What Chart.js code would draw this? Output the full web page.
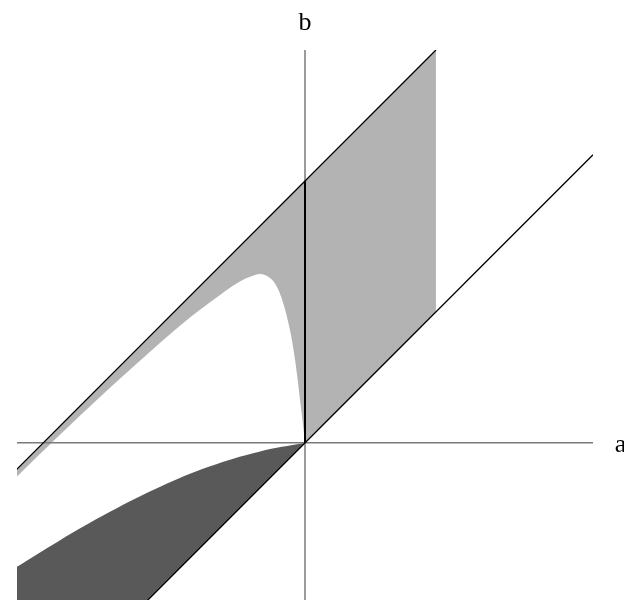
<!DOCTYPE html>
<html>
<head>
<meta charset="utf-8">
<script src="https://cdn.jsdelivr.net/npm/chart.js@4.4.1/dist/chart.umd.min.js"></script>
<style>
  html, body { margin: 0; padding: 0; background: #fff; }
</style>
</head>
<body>
<canvas id="regionChart" width="624" height="604"></canvas>
<script>
// boundary of the white hole (a < 0)
const holeA = [-2.25, -1.9, -1.49, -1.1, -0.955, -0.802, -0.649, -0.497, -0.42, -0.344, -0.267, -0.216, -0.166, -0.115, -0.076, -0.025, 0];
const holeB = [-0.305, 0.035, 0.42, 0.771, 0.894, 1.016, 1.13, 1.232, 1.268, 1.29, 1.258, 1.194, 1.067, 0.863, 0.634, 0.22, 0];

// upper edge of the dark region (a < 0)
const darkA = [-2.25, -1.88, -1.49, -1.11, -0.73, -0.35, 0];
const darkB = [-0.978, -0.749, -0.527, -0.337, -0.181, -0.067, 0];

// straight lines b = a + c and b = a
const upperA = [-2.3, 1];
const upperC = 2;
const diagA = [-2.3, 2.2];
const rightA = [0, 1];

const xRange = [-2.2, 2.2];
const yRange = [-1.2, 3.0];

const pts = (xs, f) => xs.map(x => ({ x: x, y: f(x) }));
const zip = (xs, ys) => xs.map((x, i) => ({ x: x, y: ys[i] }));

const base = {
    pointRadius: 0,
    pointHoverRadius: 0,
    fill: false
};

const axisLabels = {
    id: 'axisLabels',
    afterDraw(chart) {
        const { ctx, scales: { x, y } } = chart;
        ctx.save();
        ctx.fillStyle = '#000';
        ctx.font = '26px "Liberation Serif", "DejaVu Serif", serif';
        ctx.textAlign = 'center';
        ctx.textBaseline = 'alphabetic';
        ctx.fillText('b', x.getPixelForValue(0), y.getPixelForValue(3.155));
        ctx.fillText('a', x.getPixelForValue(2.41), y.getPixelForValue(-0.069));
        ctx.restore();
    }
};

const ctx = document.getElementById('regionChart').getContext('2d');
new Chart(ctx, {
    type: 'line',
    data: {
        datasets: [
            // 0: edge a = 0 inside the light region
            { ...base, data: [{ x: 0, y: 0 }, { x: 0, y: upperC }], borderColor: '#000', borderWidth: 2 },
            // 1: b = a + 2
            { ...base, data: pts(upperA, a => a + upperC), borderColor: '#000', borderWidth: 1.3 },
            // 2: b = a
            { ...base, data: pts(diagA, a => a), borderColor: '#000', borderWidth: 1.3 },
            // 3, 4: axes
            { ...base, data: [{ x: xRange[0], y: 0 }, { x: xRange[1], y: 0 }], borderColor: '#7a7a7a', borderWidth: 1.5 },
            { ...base, data: [{ x: 0, y: yRange[0] }, { x: 0, y: yRange[1] }], borderColor: '#7a7a7a', borderWidth: 1.5 },
            // 5: light region left of b axis
            { ...base, data: zip(holeA, holeB), borderWidth: 0, cubicInterpolationMode: 'monotone',
              fill: 1, backgroundColor: '#b3b3b3' },
            // 6: light region right of b axis
            { ...base, data: pts(rightA, a => a), borderWidth: 0, fill: 1, backgroundColor: '#b3b3b3' },
            // 7: dark region
            { ...base, data: zip(darkA, darkB), borderWidth: 0, tension: 0.4,
              fill: 2, backgroundColor: '#595959' }
        ]
    },
    options: {
        responsive: false,
        animation: false,
        layout: { padding: { left: 17, right: 31, top: 50, bottom: 4 } },
        scales: {
            x: { type: 'linear', min: xRange[0], max: xRange[1], display: false },
            y: { type: 'linear', min: yRange[0], max: yRange[1], display: false }
        },
        plugins: {
            legend: { display: false },
            tooltip: { enabled: false }
        }
    },
    plugins: [axisLabels]
});
</script>
</body>
</html>
